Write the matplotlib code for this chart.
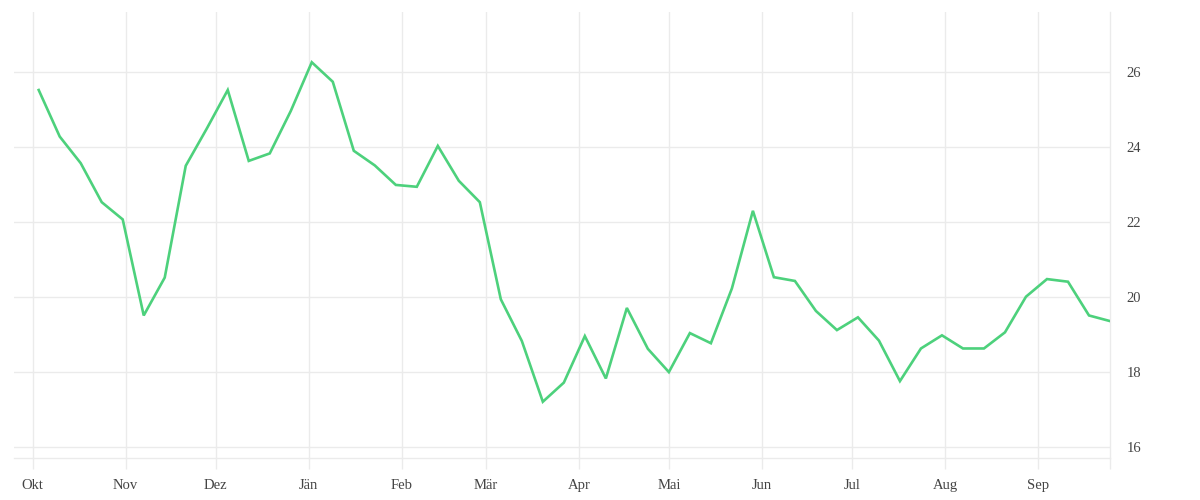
import matplotlib
matplotlib.use("Agg")
import matplotlib.pyplot as plt
import matplotlib.dates as mdates
import numpy as np
import datetime as dt

# ---- data ----
start_date = dt.date(2022, 10, 3)
n_weeks = 52
values = [25.51, 24.27, 23.56, 22.52, 22.06, 19.50, 20.51, 23.49, 24.48, 25.51,
          23.62, 23.82, 24.95, 26.25, 25.73, 23.89, 23.50, 22.98, 22.93, 24.02,
          23.09, 22.52, 19.93, 18.82, 17.20, 17.71, 18.95, 17.82, 19.70, 18.61,
          17.99, 19.03, 18.76, 20.22, 22.29, 20.52, 20.42, 19.62, 19.11, 19.45,
          18.83, 17.75, 18.62, 18.97, 18.62, 18.62, 19.05, 20.00, 20.47, 20.40,
          19.50, 19.35]
month_starts = [dt.date(2022, 10, 1), dt.date(2022, 11, 1), dt.date(2022, 12, 1),
                dt.date(2023, 1, 1), dt.date(2023, 2, 1), dt.date(2023, 3, 1),
                dt.date(2023, 4, 1), dt.date(2023, 5, 1), dt.date(2023, 6, 1),
                dt.date(2023, 7, 1), dt.date(2023, 8, 1), dt.date(2023, 9, 1)]
month_labels = ["Okt", "Nov", "Dez", "Jän", "Feb", "Mär", "Apr", "Mai", "Jun",
                "Jul", "Aug", "Sep"]
y_ticks = [16, 18, 20, 22, 24, 26]

dates = [start_date + dt.timedelta(days=7 * i) for i in range(n_weeks)]

# ---- style ----
grid_col = "#ebebeb"
line_col = "#4dd17c"
text_col = "#444444"
font = ["Liberation Serif", "DejaVu Serif"]

fig = plt.figure(figsize=(12, 5), dpi=100)
ax = fig.add_axes([14 / 1200, 1 - 458 / 500, (1110 - 14) / 1200, (458 - 12) / 500])

ax.plot(dates, values, color=line_col, lw=1.9, solid_joinstyle="miter", zorder=3)

ax.set_xlim(mdates.date2num(month_starts[0]) - 6.23, mdates.date2num(dates[-1]))
ax.set_ylim(15.7, 27.59)

ax.set_xticks([mdates.date2num(d) for d in month_starts])
ax.set_xticklabels(month_labels, fontfamily=font, fontsize=10.5, color=text_col)
ax.set_xticks([mdates.date2num(dates[-1])], minor=True)
ax.tick_params(axis="x", which="both", length=8, width=1, color=grid_col, pad=7)

ax.yaxis.tick_right()
ax.set_yticks(y_ticks)
ax.set_yticklabels([str(v) for v in y_ticks], fontfamily=font, fontsize=10.5, color=text_col)
ax.tick_params(axis="y", length=0, pad=12)

ax.grid(True, color=grid_col, lw=1)
ax.set_axisbelow(True)
for s in ["left", "top"]:
    ax.spines[s].set_visible(False)
ax.spines["bottom"].set_color(grid_col)
ax.spines["right"].set_color(grid_col)
ax.spines["bottom"].set_linewidth(1)
ax.spines["right"].set_linewidth(1)

fig.savefig("out.png", dpi=100)
